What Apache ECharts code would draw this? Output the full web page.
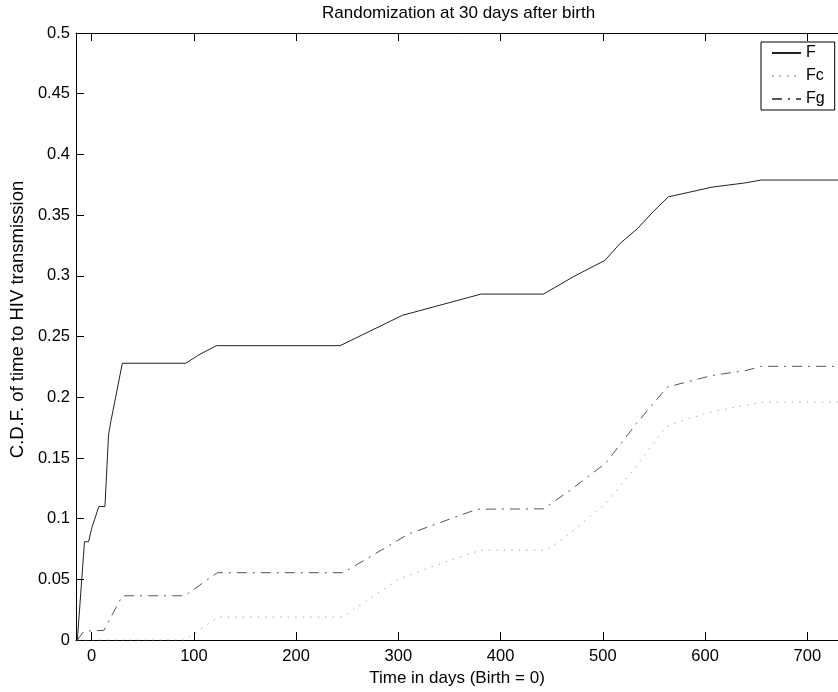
<!DOCTYPE html>
<html>
<head>
<meta charset="utf-8">
<script src="https://cdn.jsdelivr.net/npm/echarts@6/dist/echarts.min.js"></script>
<style>
html,body{margin:0;padding:0;background:#fff;}
#chart{width:838px;height:692px;}
</style>
</head>
<body>
<div id="chart"></div>
<script>
// ---- data ----
var daysF = [-14, -7, -3, 0, 7, 13, 16.5, 19, 30, 92, 105, 122, 243, 304, 381, 442, 472, 502, 517, 534, 549, 564, 607, 638, 655, 730];
var valuesF = [0, 0.081, 0.081, 0.092, 0.11, 0.11, 0.169, 0.181, 0.228, 0.228, 0.235, 0.2425, 0.2425, 0.2675, 0.285, 0.285, 0.2997, 0.3127, 0.3268, 0.339, 0.3527, 0.365, 0.3731, 0.3764, 0.3789, 0.3789];

var daysFc = [-14, 91, 124, 245, 268, 300, 341, 380, 445, 469, 504, 530, 562, 575, 603, 655, 730];
var valuesFc = [0, 0, 0.019, 0.019, 0.032, 0.05, 0.063, 0.074, 0.074, 0.0887, 0.1132, 0.1405, 0.1758, 0.18, 0.1873, 0.196, 0.196];

var daysFg = [-14, -8, 0, 12, 30, 91, 123, 246, 310, 377, 442, 469, 503, 533, 563, 607, 640, 655, 730];
var valuesFg = [0, 0.007, 0.0077, 0.008, 0.0365, 0.0365, 0.0555, 0.0555, 0.0874, 0.1078, 0.1081, 0.124, 0.1459, 0.1785, 0.2084, 0.218, 0.222, 0.2255, 0.2255];

var seriesNames = ['F', 'Fc', 'Fg'];
var titleText = 'Randomization at 30 days after birth';
var xAxisTitle = 'Time in days (Birth = 0)';
var yAxisTitle = 'C.D.F. of time to HIV transmission';
var xMin = -15.3, xMax = 730;
var yMin = 0, yMax = 0.5, yStep = 0.05;

function pairs(xs, ys) {
  return xs.map(function (x, i) { return [x, ys[i]]; });
}

var FONT = '"Liberation Sans", Arial, Helvetica, sans-serif';
var chart = echarts.init(document.getElementById('chart'), null, {renderer: 'canvas'});

var tickStyle = {show: true, inside: true, length: 8, lineStyle: {color: '#000', width: 1}};
var axisLineStyle = {show: true, onZero: false, lineStyle: {color: '#000', width: 1}};

chart.setOption({
  animation: false,
  backgroundColor: '#fff',
  textStyle: {fontFamily: FONT},
  title: {
    text: titleText,
    left: 322, top: 5, padding: 0,
    textStyle: {fontSize: 17, fontWeight: 'normal', color: '#000', fontFamily: FONT}
  },
  legend: {
    data: seriesNames,
    orient: 'vertical',
    left: 761, top: 42,
    padding: [3, 10, 3, 10],
    itemWidth: 29, itemHeight: 14, itemGap: 7,
    borderColor: '#000', borderWidth: 1,
    backgroundColor: '#fff',
    itemStyle: {opacity: 0},
    textStyle: {fontSize: 16, lineHeight: 14, color: '#000', fontFamily: FONT}
  },
  grid: {left: 71, top: 33, right: -11, bottom: 46.6, containLabel: false},
  xAxis: [{
    type: 'value', position: 'bottom',
    min: xMin, max: xMax, splitNumber: 8,
    name: xAxisTitle, nameLocation: 'middle', nameGap: 29,
    nameTextStyle: {fontSize: 17, color: '#000', fontFamily: FONT},
    axisLine: axisLineStyle, axisTick: tickStyle,
    axisLabel: {
      show: true, margin: 8, fontSize: 16.5, color: '#000', fontFamily: FONT,
      showMinLabel: false, showMaxLabel: false,
      formatter: function (v) { return (Math.abs(v % 100) < 1e-6) ? String(v) : ''; }
    },
    splitLine: {show: false}
  }, {
    type: 'value', position: 'top',
    min: xMin, max: xMax, splitNumber: 8,
    axisLine: axisLineStyle, axisTick: tickStyle,
    axisLabel: {show: false},
    splitLine: {show: false}
  }],
  yAxis: [{
    type: 'value', position: 'left',
    min: yMin, max: yMax, interval: yStep,
    name: yAxisTitle, nameLocation: 'middle', nameGap: 29,
    nameTextStyle: {fontSize: 18.5, color: '#000', fontFamily: FONT, padding: [0, 0, 0, 34]},
    axisLine: axisLineStyle, axisTick: tickStyle,
    axisLabel: {margin: 6, fontSize: 16.5, color: '#000', fontFamily: FONT},
    splitLine: {show: false}
  }],
  series: [{
    name: seriesNames[0], type: 'line', xAxisIndex: 0,
    data: pairs(daysF, valuesF),
    symbol: 'none', showSymbol: false,
    lineStyle: {color: '#222', width: 1, type: 'solid'},
    itemStyle: {color: '#222'}
  }, {
    name: seriesNames[1], type: 'line', xAxisIndex: 0,
    data: pairs(daysFc, valuesFc),
    symbol: 'none', showSymbol: false,
    lineStyle: {color: '#aaa', width: 1, type: [1.5, 6]},
    itemStyle: {color: '#aaa'}
  }, {
    name: seriesNames[2], type: 'line', xAxisIndex: 0,
    data: pairs(daysFg, valuesFg),
    symbol: 'none', showSymbol: false,
    lineStyle: {color: '#555', width: 1, type: [10, 6, 2, 6]},
    itemStyle: {color: '#555'}
  }]
});
</script>
</body>
</html>
